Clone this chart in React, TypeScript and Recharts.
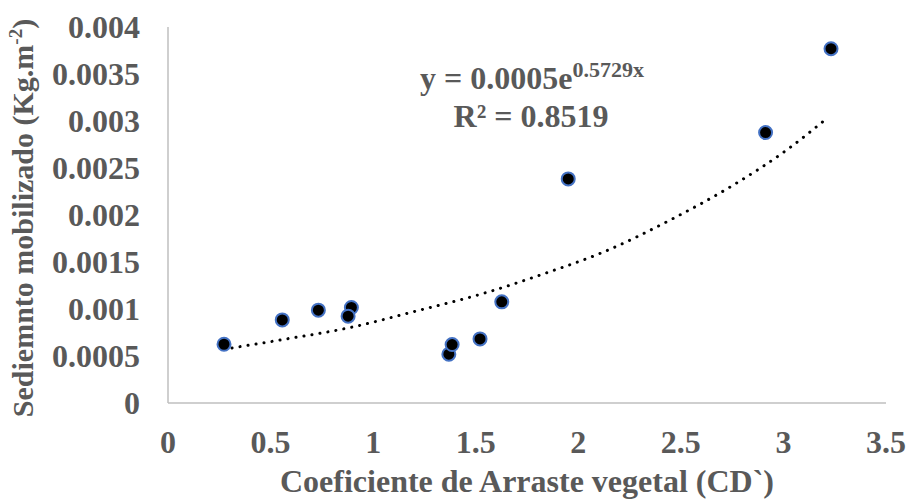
import React from 'react';
import { Scatter, ScatterChart, XAxis, YAxis } from 'recharts';

// valores
const cdValues = [0.273, 0.557, 0.733, 0.894, 0.878, 1.369, 1.385, 1.521, 1.627, 1.951, 2.913, 3.232];
const sedimentValues = [
  0.000625, 0.000884, 0.000988, 0.001016, 0.000924, 0.000519, 0.000622, 0.000682, 0.001076, 0.002384,
  0.002877, 0.003769,
];

// línea de tendencia exponencial (puntos leídos sobre la curva punteada)
const trendX = [0.273, 0.562, 0.888, 1.213, 1.538, 1.838, 2.107, 2.464, 2.757, 3.017, 3.209];
const trendY = [
  0.000572, 0.000676, 0.000803, 0.00098, 0.001166, 0.001379, 0.001592, 0.001965, 0.00232, 0.002693, 0.003023,
];

const xTicks = [0, 0.5, 1, 1.5, 2, 2.5, 3, 3.5];
const yTicks = [0, 0.0005, 0.001, 0.0015, 0.002, 0.0025, 0.003, 0.0035, 0.004];

const FONT = '"Liberation Serif", "Times New Roman", serif';
const GREY = '#595959';

const points = cdValues.map((x, i) => ({ x, y: sedimentValues[i] }));
const trend = trendX.map((x, i) => ({ x, y: trendY[i] }));

const tickStyle = { fill: GREY, fontSize: 32, fontWeight: 'bold', fontFamily: FONT };

function Dot(props: any) {
  const { cx, cy } = props;
  if (cx == null || cy == null) return null;
  return <circle cx={cx} cy={cy} r={6.5} fill="#000" stroke="#4472C4" strokeWidth={2} />;
}

function YTitle(props: any) {
  const vb = props.viewBox || { x: 0, y: 27, width: 168, height: 376 };
  const cy = vb.y + vb.height / 2 + 3;
  const bx = 33;
  return (
    <text
      x={bx}
      y={cy}
      transform={`rotate(-90 ${bx} ${cy})`}
      textAnchor="middle"
      fill={GREY}
      fontSize={30}
      fontWeight="bold"
      fontFamily={FONT}
    >
      Sediemnto mobilizado (Kg.m
      <tspan fontSize={19} dy={-11}>-2</tspan>
      <tspan dy={11}>)</tspan>
    </text>
  );
}

export default function App() {
  return (
    <div style={{ position: 'absolute', left: 0, top: 0, width: 908, height: 499, background: '#fff' }}>
      <ScatterChart width={908} height={499} margin={{ top: 27, right: 22, bottom: 0, left: 0 }}>
        <XAxis
          type="number"
          dataKey="x"
          domain={[0, 3.5]}
          ticks={xTicks}
          height={96}
          tickSize={0}
          tickMargin={27}
          tickLine={false}
          axisLine={{ stroke: '#bfbfbf', strokeWidth: 1.5 }}
          tick={tickStyle}
          allowDataOverflow
          label={{
            value: 'Coeficiente de Arraste vegetal (CD`)',
            position: 'insideBottom',
            offset: 7,
            fill: GREY,
            fontSize: 32,
            fontWeight: 'bold',
            fontFamily: FONT,
          }}
        />
        <YAxis
          type="number"
          dataKey="y"
          domain={[0, 0.004]}
          ticks={yTicks}
          width={168}
          tickSize={0}
          tickMargin={28}
          tickLine={false}
          axisLine={{ stroke: '#bfbfbf', strokeWidth: 1.5 }}
          tick={tickStyle}
          allowDataOverflow
          label={<YTitle />}
        />
        <Scatter
          data={trend}
          shape={() => null}
          line={{ stroke: '#000', strokeWidth: 3, strokeDasharray: '0.1 8', strokeLinecap: 'round' }}
          lineJointType="monotoneX"
          isAnimationActive={false}
        />
        <Scatter data={points} shape={<Dot />} isAnimationActive={false} />
      </ScatterChart>
      <svg width={908} height={499} style={{ position: 'absolute', left: 0, top: 0, pointerEvents: 'none' }}>
        <text x={532} y={89} textAnchor="middle" fill={GREY} fontSize={32} fontWeight="bold" fontFamily={FONT}>
          y = 0.0005e<tspan fontSize={22} dy={-12}>0.5729x</tspan>
        </text>
        <text x={531} y={127} textAnchor="middle" fill={GREY} fontSize={32} fontWeight="bold" fontFamily={FONT}>
          R² = 0.8519
        </text>
      </svg>
    </div>
  );
}
